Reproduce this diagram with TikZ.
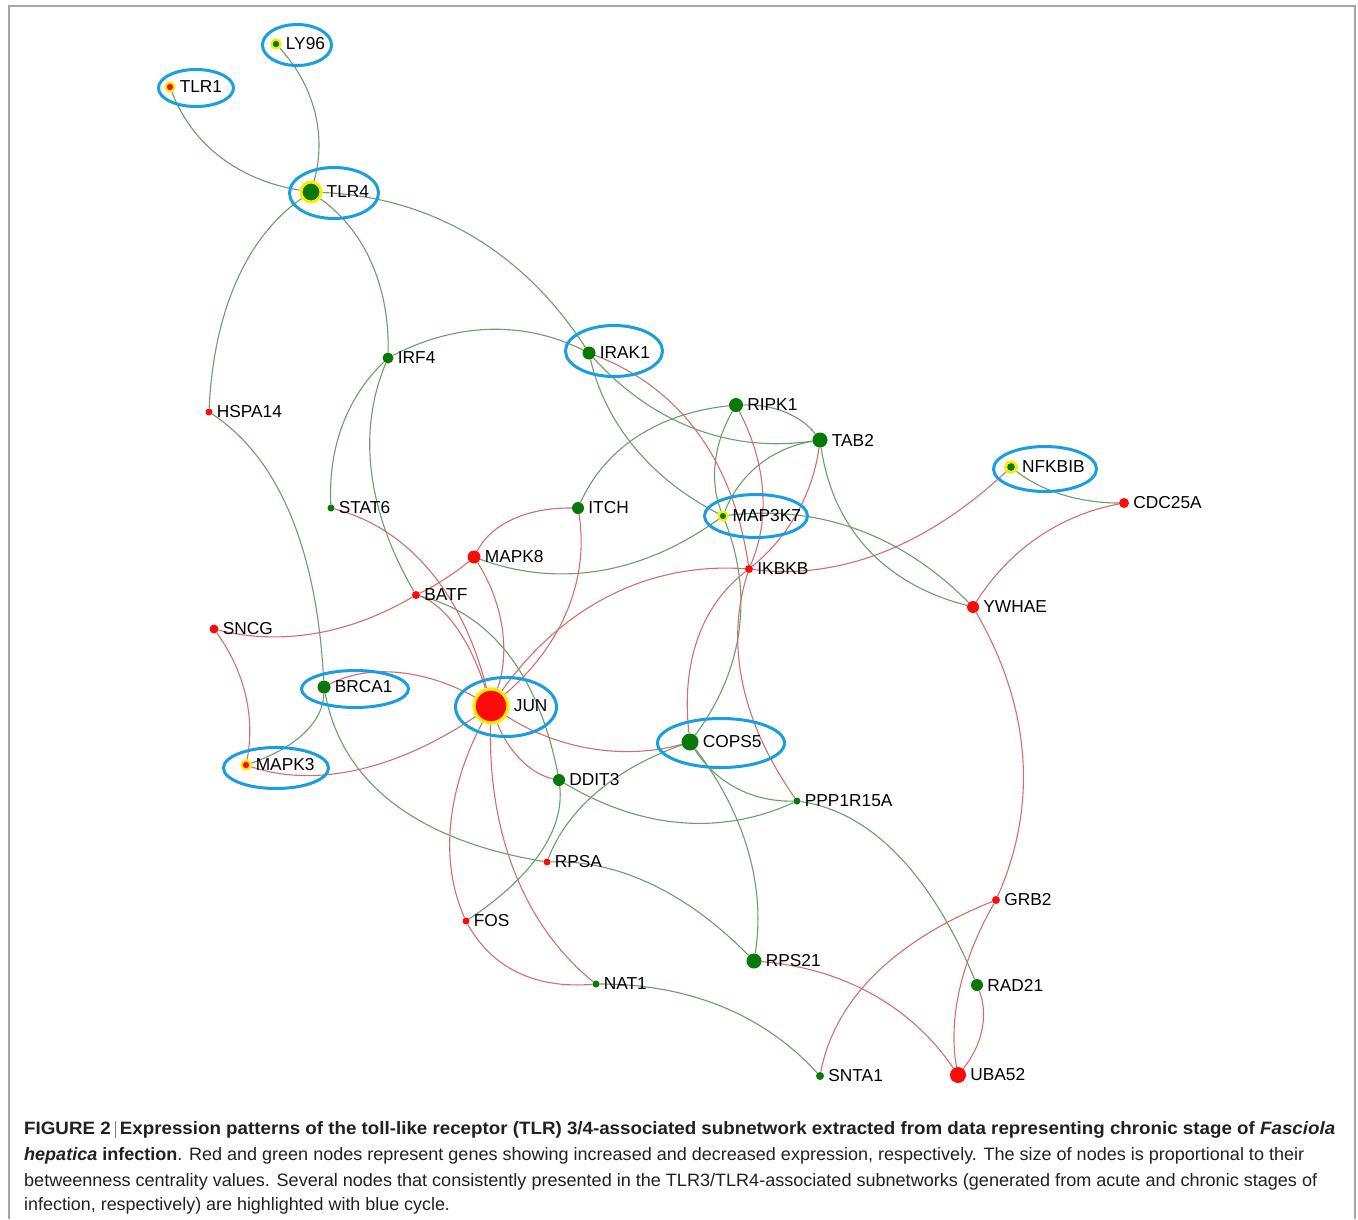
\documentclass[tikz,border=0pt]{standalone}
\usepackage{fontspec}
\setmainfont{Liberation Sans}
\usetikzlibrary{calc,backgrounds,shapes.geometric}
\definecolor{ndgreen}{RGB}{8,120,8}
\definecolor{ndred}{RGB}{255,10,10}
\definecolor{ndyellow}{RGB}{250,235,0}
\definecolor{eg}{RGB}{105,160,105}
\definecolor{er}{RGB}{212,110,110}
\definecolor{hlblue}{RGB}{25,158,222}
\definecolor{framegray}{RGB}{165,165,165}
\definecolor{captext}{RGB}{35,31,32}
\newcommand\lblfont{\fontsize{17.3}{20}\selectfont}
\newcommand\capfont{\fontsize{17.9}{25.5}\selectfont}
% quadratic-like curve from #2 to #3 passing through midpoint #4
\newcommand\lnk[4]{\draw[#1] (#2) .. controls ($1.3333*(#4)-0.3333*(#3)$) and ($1.3333*(#4)-0.3333*(#2)$) .. (#3);}
\tikzset{
  gn/.style={circle, fill=ndgreen, inner sep=0pt, minimum size=#1},
  rn/.style={circle, fill=ndred, inner sep=0pt, minimum size=#1},
  gring/.style n args={2}{circle, fill=ndgreen, draw=ndyellow, inner sep=0pt, minimum size=#1, line width=#2},
  rring/.style n args={2}{circle, fill=ndred, draw=ndyellow, inner sep=0pt, minimum size=#1, line width=#2},
  lb/.style={font=\lblfont, inner sep=0pt, text=black},
  ge/.style={draw=eg, line width=1.1pt},
  re/.style={draw=er, line width=1.1pt},
  hl/.style={ellipse, draw=hlblue, line width=3pt, inner sep=0pt},
  captxt/.style={font=\capfont, text=captext, inner sep=0pt, anchor=base west},
}
\begin{document}
\begin{tikzpicture}[x=1pt, y=-1pt, label distance=4pt]
\useasboundingbox (0,0) rectangle (1358,1219);
\draw[framegray, line width=1.5pt] (9,1219) -- (9,6) -- (1355,6) -- (1355,1219);

% highlight ellipses
\node[hl, minimum width=69pt, minimum height=41pt] (hlLY96) at (297,45) {};
\node[hl, minimum width=75pt, minimum height=37pt] (hlTLR1) at (196,88) {};
\node[hl, minimum width=89pt, minimum height=51pt] (hlTLR4) at (334,193) {};
\node[hl, minimum width=97pt, minimum height=51pt] (hlIRAK1) at (614,351) {};
\node[hl, minimum width=103pt, minimum height=45pt] (hlNFKBIB) at (1045,469) {};
\node[hl, minimum width=103pt, minimum height=43pt] (hlMAP3K7) at (756,516) {};
\node[hl, minimum width=107pt, minimum height=37pt] (hlBRCA1) at (355,689) {};
\node[hl, minimum width=101pt, minimum height=59pt] (hlJUN) at (506,707) {};
\node[hl, minimum width=105pt, minimum height=41pt] (hlMAPK3) at (276,768) {};
\node[hl, minimum width=127pt, minimum height=49pt] (hlCOPS5) at (721,743) {};

% gene nodes
\node[gring={9.2pt}{2.2pt}, label={[lb]right:LY96}] (LY96) at (276,44) {};
\node[rring={9pt}{2.2pt}, label={[lb]right:TLR1}] (TLR1) at (170,87) {};
\node[gring={20pt}{3pt}, label={[lb]right:TLR4}] (TLR4) at (311,192) {};
\node[gn=11pt, label={[lb]right:IRF4}] (IRF4) at (388,358) {};
\node[rn=7pt, label={[lb]right:HSPA14}] (HSPA14) at (209,412) {};
\node[gn=13pt, label={[lb]right:IRAK1}] (IRAK1) at (589,353) {};
\node[gn=14pt, label={[lb]right:RIPK1}] (RIPK1) at (736,405) {};
\node[gn=15pt, label={[lb]right:TAB2}] (TAB2) at (820,440) {};
\node[gring={11pt}{2.8pt}, label={[lb]right:NFKBIB}] (NFKBIB) at (1011,467) {};
\node[rn=10pt, label={[lb]right:CDC25A}] (CDC25A) at (1124,503) {};
\node[gn=7pt, label={[lb]right:STAT6}] (STAT6) at (331,508) {};
\node[gn=12pt, label={[lb]right:ITCH}] (ITCH) at (578,508) {};
\node[gring={8.8pt}{2.2pt}, label={[lb]right:MAP3K7}] (MAP3K7) at (723,516) {};
\node[rn=13pt, label={[lb]right:MAPK8}] (MAPK8) at (474,557) {};
\node[rn=8pt, label={[lb]right:IKBKB}] (IKBKB) at (749,569) {};
\node[rn=8pt, label={[lb]right:BATF}] (BATF) at (416,595) {};
\node[rn=12pt, label={[lb]right:YWHAE}] (YWHAE) at (973,607) {};
\node[rn=9pt, label={[lb]right:SNCG}] (SNCG) at (214,629) {};
\node[gn=13pt, label={[lb]right:BRCA1}] (BRCA1) at (324,687) {};
\node[rring={34pt}{3.3pt}, label={[lb]right:JUN}] (JUN) at (491,706) {};
\node[rring={9pt}{2.2pt}, label={[lb]right:MAPK3}] (MAPK3) at (246,765) {};
\node[gn=17pt, label={[lb]right:COPS5}] (COPS5) at (690,742) {};
\node[gn=12pt, label={[lb]right:DDIT3}] (DDIT3) at (559,780) {};
\node[gn=7pt, label={[lb]right:PPP1R15A}] (PPP1R15A) at (797,801) {};
\node[rn=7pt, label={[lb]right:RPSA}] (RPSA) at (547,862) {};
\node[rn=7pt, label={[lb]right:FOS}] (FOS) at (466,921) {};
\node[rn=8pt, label={[lb]right:GRB2}] (GRB2) at (996,900) {};
\node[gn=15pt, label={[lb]right:RPS21}] (RPS21) at (754,961) {};
\node[gn=7pt, label={[lb]right:NAT1}] (NAT1) at (596,984) {};
\node[gn=12pt, label={[lb]right:RAD21}] (RAD21) at (977,985) {};
\node[gn=8pt, label={[lb]right:SNTA1}] (SNTA1) at (820,1076) {};
\node[rn=16pt, label={[lb]right:UBA52}] (UBA52) at (958,1075) {};

\begin{pgfonlayer}{background}
\lnk{ge}{TLR1}{TLR4}{222,157}
\lnk{ge}{LY96}{TLR4}{314,113}
\lnk{ge}{TLR4}{IRAK1}{470,236}
\lnk{ge}{TLR4}{HSPA14}{238,280}
\lnk{ge}{TLR4}{IRF4}{370,262}
\lnk{ge}{HSPA14}{BRCA1}{290,515}
\lnk{ge}{IRF4}{IRAK1}{490,330}
\lnk{ge}{IRF4}{STAT6}{343,425}
\lnk{ge}{IRF4}{BATF}{372,472}
\lnk{ge}{BATF}{DDIT3}{508,655}
\lnk{ge}{IRAK1}{TAB2}{695,428}
\lnk{ge}{IRAK1}{MAP3K7}{635,447}
\lnk{re}{IRAK1}{IKBKB}{697,433}
\lnk{ge}{RIPK1}{TAB2}{785,413}
\lnk{ge}{ITCH}{RIPK1}{638,437}
\lnk{ge}{RIPK1}{MAP3K7}{716,462}
\lnk{ge}{MAP3K7}{COPS5}{738,632}
\lnk{ge}{MAP3K7}{TAB2}{760,465}
\lnk{re}{TAB2}{IKBKB}{797,512}
\lnk{re}{RIPK1}{IKBKB}{762,490}
\lnk{re}{IKBKB}{PPP1R15A}{743,683}
\lnk{re}{IKBKB}{COPS5}{698,640}
\lnk{re}{IKBKB}{JUN}{608,598}
\lnk{re}{IKBKB}{NFKBIB}{882,552}
\lnk{ge}{NFKBIB}{CDC25A}{1062,494}
\lnk{re}{CDC25A}{YWHAE}{1038,538}
\lnk{re}{YWHAE}{GRB2}{1022,755}
\lnk{ge}{TAB2}{YWHAE}{868,548}
\lnk{ge}{MAP3K7}{YWHAE}{857,530}
\lnk{ge}{MAPK8}{MAP3K7}{600,570}
\lnk{re}{MAPK8}{ITCH}{513,520}
\lnk{re}{MAPK8}{JUN}{501,630}
\lnk{re}{BATF}{MAPK8}{446,578}
\lnk{re}{SNCG}{BATF}{315,633}
\lnk{re}{STAT6}{JUN}{430,573}
\lnk{re}{BATF}{JUN}{457,630}
\lnk{re}{ITCH}{JUN}{565,612}
\lnk{re}{SNCG}{MAPK3}{245,695}
\lnk{ge}{BRCA1}{MAPK3}{304,732}
\lnk{re}{BRCA1}{JUN}{400,674}
\lnk{re}{MAPK3}{JUN}{360,768}
\lnk{ge}{BRCA1}{RPSA}{393,802}
\lnk{re}{JUN}{DDIT3}{520,757}
\lnk{re}{JUN}{COPS5}{590,747}
\lnk{re}{JUN}{FOS}{452,822}
\lnk{re}{JUN}{NAT1}{515,870}
\lnk{re}{FOS}{NAT1}{518,972}
\lnk{ge}{DDIT3}{FOS}{540,852}
\lnk{ge}{DDIT3}{PPP1R15A}{680,822}
\lnk{ge}{COPS5}{RPSA}{598,792}
\lnk{ge}{COPS5}{PPP1R15A}{736,787}
\lnk{ge}{COPS5}{RPS21}{747,850}
\lnk{ge}{RPSA}{RPS21}{652,885}
\lnk{ge}{PPP1R15A}{RAD21}{897,855}
\lnk{ge}{NAT1}{SNTA1}{722,1007}
\lnk{re}{RPS21}{UBA52}{872,995}
\lnk{re}{GRB2}{SNTA1}{875,975}
\lnk{re}{GRB2}{UBA52}{960,990}
\lnk{re}{RAD21}{UBA52}{981,1030}
\end{pgfonlayer}

% caption
\node[captxt] (cap1) at (24,1134) {\resizebox{1311pt}{\height}{\textbf{FIGURE 2}\hspace{4pt}{\color{gray}\rule[-3.5pt]{0.8pt}{17pt}}\hspace{4pt}\textbf{Expression patterns of the toll-like receptor (TLR) 3/4-associated subnetwork extracted from data representing chronic stage of \textit{Fasciola}}}};
\node[captxt] (cap2) at (24,1160) {\resizebox{1280pt}{\height}{\textbf{\textit{hepatica} infection}. Red and green nodes represent genes showing increased and decreased expression, respectively. The size of nodes is proportional to their}};
\node[captxt] (cap3) at (24,1186) {\resizebox{1293pt}{\height}{betweenness centrality values. Several nodes that consistently presented in the TLR3/TLR4-associated subnetworks (generated from acute and chronic stages of}};
\node[captxt] (cap4) at (24,1210) {infection, respectively) are highlighted with blue cycle.};
\end{tikzpicture}
\end{document}
